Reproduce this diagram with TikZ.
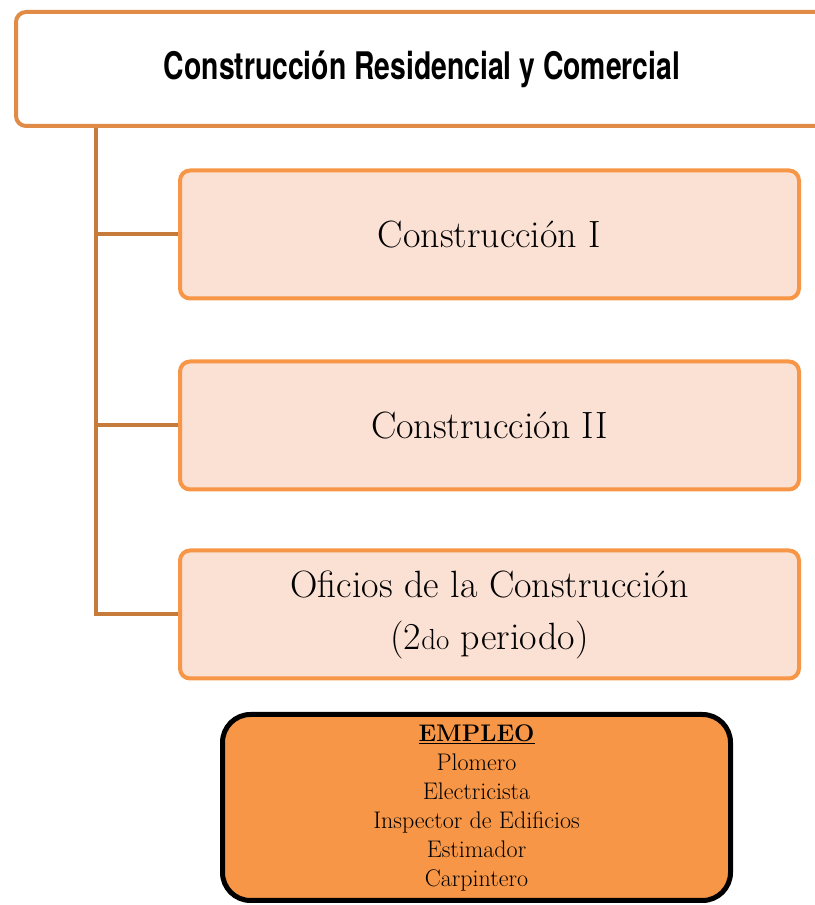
\documentclass[tikz,border=0pt]{standalone}
\usepackage{fontspec}
\newfontfamily\headfont{TeX Gyre Heros}
\usetikzlibrary{positioning}
\definecolor{topline}{HTML}{E08B46}
\definecolor{treeline}{HTML}{C77B3B}
\definecolor{courseline}{HTML}{F79646}
\definecolor{coursefill}{HTML}{FBE0D4}
\definecolor{jobfill}{HTML}{F79646}

\begin{document}
\begin{tikzpicture}[x=1pt,y=1pt,node distance=58pt,
    top node/.style={draw=topline,line width=4pt,fill=white,rounded corners=10pt,minimum width=812pt,minimum height=114pt,inner sep=0pt},
    course node/.style={draw=courseline,line width=4pt,fill=coursefill,rounded corners=10pt,minimum width=619pt,minimum height=128pt,align=center,font=\fontsize{38}{52}\selectfont},
    job node/.style={draw=black,line width=5pt,fill=jobfill,rounded corners=28pt,minimum width=508pt,minimum height=186pt,align=center,font=\fontsize{24}{29}\selectfont},
    tree line/.style={draw=treeline,line width=4pt}]
\useasboundingbox (0,0) rectangle (814,905);

\node[top node] (top) at (422,836) {\headfont\bfseries\fontsize{38}{42}\selectfont\scalebox{0.745}[1]{Construcción Residencial y Comercial}};
\node[course node] (c1) at (489.5,670.5) {Construcción I};
\node[course node] (c2) [below=59pt of c1] {Construcción II};
\node[course node] (c3) [below=57pt of c2] {Oficios de la Construcción\\(2{\fontsize{29}{32}\selectfont do} periodo)};
\node[job node] (job) at (476.5,97.5) {\underline{\textbf{EMPLEO}}\\Plomero\\Electricista\\Inspector de Edificios\\Estimador\\Carpintero};

\coordinate (trunk) at (96,0);
\path[tree line] (top.south -| trunk) |- (c3.west);
\foreach \n in {c1,c2}
  \path[tree line] (\n.west -| trunk) -- (\n.west);
\end{tikzpicture}
\end{document}
